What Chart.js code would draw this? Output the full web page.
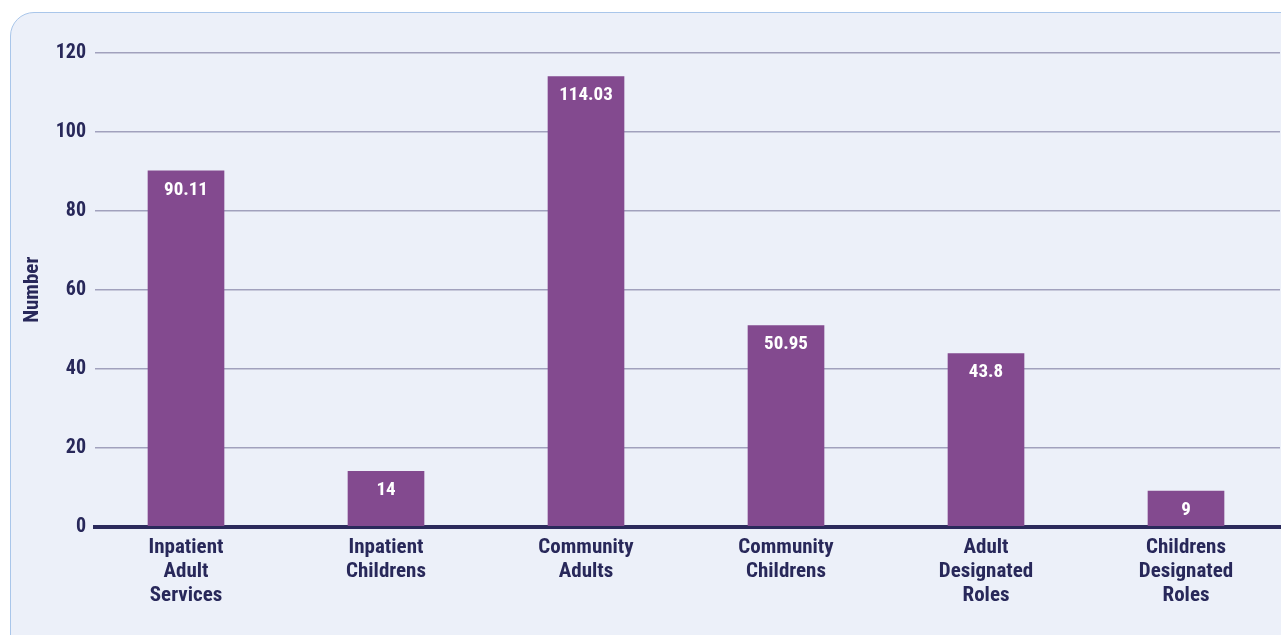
<!DOCTYPE html>
<html>
<head>
<meta charset="utf-8">
<script src="https://cdn.jsdelivr.net/npm/chart.js@4/dist/chart.umd.min.js"></script>
<style>
  html, body { margin: 0; padding: 0; background: #ffffff; overflow: hidden; }
  body { width: 1281px; height: 635px; position: relative; }
  #panel { position: absolute; left: 10px; top: 12px; width: 1300px; height: 660px;
           background: #ecf0f9; border: 1.5px solid #a9c6ea; border-radius: 24px; box-sizing: border-box; }
  #wrap { position: absolute; left: 0; top: 0; width: 1281px; height: 635px; }
</style>
</head>
<body>
<div id="panel"></div>
<div id="wrap"><canvas id="c" width="1281" height="635"></canvas></div>
<script>
const categories = [
  ["Inpatient", "Adult", "Services"],
  ["Inpatient", "Childrens"],
  ["Community", "Adults"],
  ["Community", "Childrens"],
  ["Adult", "Designated", "Roles"],
  ["Childrens", "Designated", "Roles"]
];
const values = [90.11, 14, 114.03, 50.95, 43.8, 9];
const valueLabels = ["90.11", "14", "114.03", "50.95", "43.8", "9"];
const yTicks = [0, 20, 40, 60, 80, 100, 120];
const yTitle = "Number";

const FONT = "'Liberation Sans Narrow', 'Arial Narrow', 'Roboto Condensed', Roboto, sans-serif";
const NAVY = '#28285a';
const BAR = '#834a8f';

const barLabels = {
  id: 'barLabels',
  afterDatasetsDraw(chart) {
    const ctx = chart.ctx;
    const meta = chart.getDatasetMeta(0);
    ctx.save();
    ctx.fillStyle = '#ffffff';
    ctx.font = "bold 19px " + FONT;
    ctx.textAlign = 'center';
    ctx.textBaseline = 'middle';
    meta.data.forEach((el, i) => {
      ctx.fillText(valueLabels[i], el.x, el.y + 19);
    });
    ctx.restore();
  }
};

new Chart(document.getElementById('c'), {
  type: 'bar',
  data: {
    datasets: [{
      data: values.map((v, i) => ({ x: i, y: v })),
      backgroundColor: BAR,
      borderWidth: 0,
      barThickness: 76
    }]
  },
  options: {
    responsive: false,
    animation: false,
    devicePixelRatio: 1,
    layout: { padding: { top: 53, right: 1, bottom: 0, left: 0 } },
    plugins: { legend: { display: false }, tooltip: { enabled: false } },
    scales: {
      x: {
        type: 'linear',
        offset: false,
        min: -0.455,
        max: 5.47,
        grid: { display: false, drawTicks: false, offset: false },
        border: { display: true, color: '#2b2a5c', width: 4 },
        afterBuildTicks(scale) {
          scale.ticks = categories.map((c, i) => ({ value: i }));
        },
        afterFit(scale) { scale.height = 108.5; },
        ticks: {
          autoSkip: false,
          maxRotation: 0,
          padding: 9,
          color: NAVY,
          font: { family: FONT, size: 21, weight: 'bold', lineHeight: 1.15 },
          callback: (v) => categories[v]
        }
      },
      y: {
        min: 0,
        max: 120,
        afterBuildTicks(scale) {
          scale.ticks = yTicks.map(v => ({ value: v }));
        },
        afterFit(scale) { scale.width = 95; },
        grid: { color: '#a1a1bd', lineWidth: 1.5, drawTicks: false },
        border: { display: false },
        ticks: {
          padding: 9,
          color: NAVY,
          font: { family: FONT, size: 20, weight: 'bold' }
        },
        title: {
          display: true,
          text: yTitle,
          color: NAVY,
          padding: { top: 20, bottom: 0 },
          font: { family: FONT, size: 21, weight: 'bold' }
        }
      }
    }
  },
  plugins: [barLabels]
});
</script>
</body>
</html>
